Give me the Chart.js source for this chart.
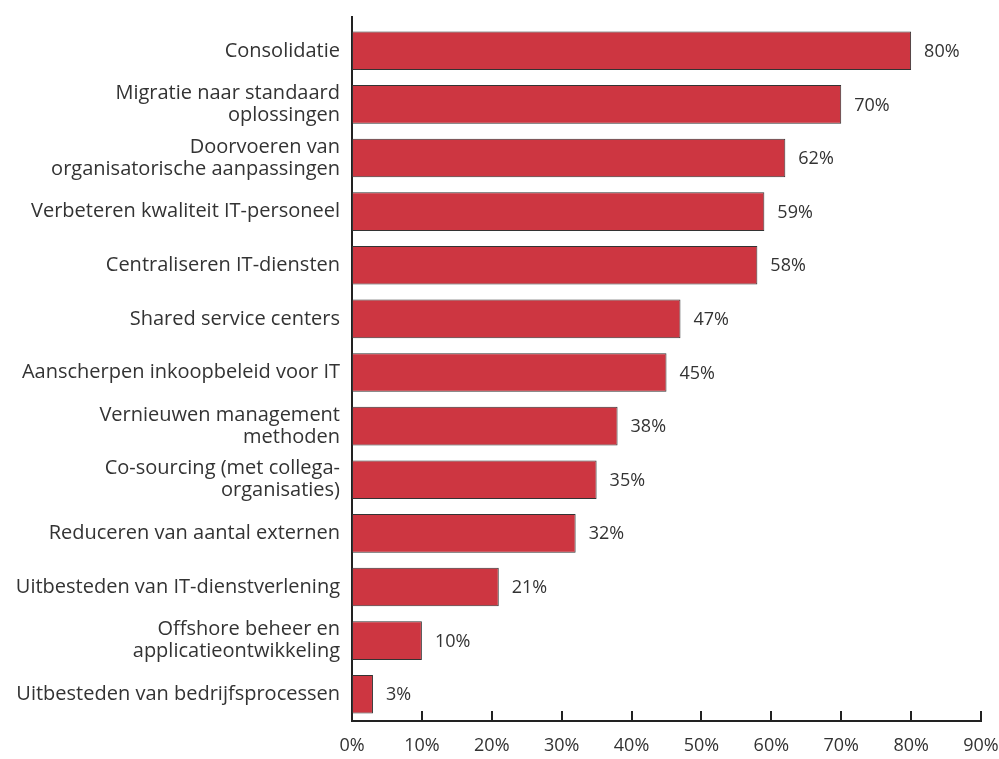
<!DOCTYPE html>
<html>
<head>
<meta charset="utf-8">
<script src="https://cdn.jsdelivr.net/npm/chart.js@4/dist/chart.umd.min.js"></script>
<style>
  html, body { margin: 0; padding: 0; background: #fff; }
  #wrap { width: 999px; height: 759px; }
</style>
</head>
<body>
<div id="wrap"><canvas id="barChart" width="999" height="759"></canvas></div>
<script>
const categories = [
    'Consolidatie',
    ['Migratie naar standaard', 'oplossingen'],
    ['Doorvoeren van', 'organisatorische aanpassingen'],
    'Verbeteren kwaliteit IT-personeel',
    'Centraliseren IT-diensten',
    'Shared service centers',
    'Aanscherpen inkoopbeleid voor IT',
    ['Vernieuwen management', 'methoden'],
    ['Co-sourcing (met collega-', 'organisaties)'],
    'Reduceren van aantal externen',
    'Uitbesteden van IT-dienstverlening',
    ['Offshore beheer en', 'applicatieontwikkeling'],
    'Uitbesteden van bedrijfsprocessen'
];
const percentages = [80, 70, 62, 59, 58, 47, 45, 38, 35, 32, 21, 10, 3];
const xTicks = [0, 10, 20, 30, 40, 50, 60, 70, 80, 90];

const fontFamily = "'Open Sans', 'Noto Sans', sans-serif";
const textColor = '#333333';
const axisColor = '#222222';

// tick marks pointing inward + y axis line sticking out above the plot
const axisExtras = {
    id: 'axisExtras',
    afterDraw(chart) {
        const ctx = chart.ctx;
        const area = chart.chartArea;
        const xs = chart.scales.x;
        ctx.save();
        ctx.strokeStyle = axisColor;
        ctx.lineWidth = 2;
        ctx.beginPath();
        ctx.moveTo(area.left, area.top - 8);
        ctx.lineTo(area.left, area.top + 1);
        xTicks.forEach(v => {
            if (v === 0) return;
            const px = Math.round(xs.getPixelForValue(v));
            ctx.moveTo(px, area.bottom);
            ctx.lineTo(px, area.bottom - 10);
        });
        ctx.stroke();

        // value labels next to the bars
        ctx.fillStyle = textColor;
        ctx.font = '18px ' + fontFamily;
        ctx.textBaseline = 'middle';
        ctx.textAlign = 'left';
        const meta = chart.getDatasetMeta(0);
        meta.data.forEach((bar, i) => {
            ctx.fillText(percentages[i] + '%', bar.x + 13, bar.y + 1);
        });
        ctx.restore();
    }
};

new Chart(document.getElementById('barChart').getContext('2d'), {
    type: 'bar',
    data: {
        labels: categories,
        datasets: [{
            data: percentages,
            backgroundColor: '#cd3641',
            borderColor: '#333333',
            borderWidth: 1,
            borderSkipped: false,
            barPercentage: 0.72,
            categoryPercentage: 1
        }]
    },
    options: {
        indexAxis: 'y',
        responsive: false,
        animation: false,
        layout: { padding: { top: 24, right: 0, left: 0, bottom: 0 } },
        plugins: {
            legend: { display: false },
            tooltip: { enabled: false }
        },
        scales: {
            x: {
                min: 0,
                max: 90,
                afterFit(scale) {
                    scale.height = 38;
                    scale.paddingRight = 18;
                    scale.paddingLeft = 0;
                },
                afterBuildTicks(scale) { scale.ticks = xTicks.map(v => ({ value: v })); },
                grid: { display: false, drawTicks: false },
                border: { display: true, color: axisColor, width: 2 },
                ticks: {
                    padding: 14,
                    maxRotation: 0,
                    color: textColor,
                    font: { family: fontFamily, size: 18 },
                    callback: v => v + '%'
                }
            },
            y: {
                afterFit(scale) { scale.width = 352; },
                grid: { display: false, drawTicks: false },
                border: { display: true, color: axisColor, width: 2 },
                ticks: {
                    padding: 12,
                    color: textColor,
                    font: { family: fontFamily, size: 20, lineHeight: 1.1 }
                }
            }
        }
    },
    plugins: [axisExtras]
});
</script>
</body>
</html>
